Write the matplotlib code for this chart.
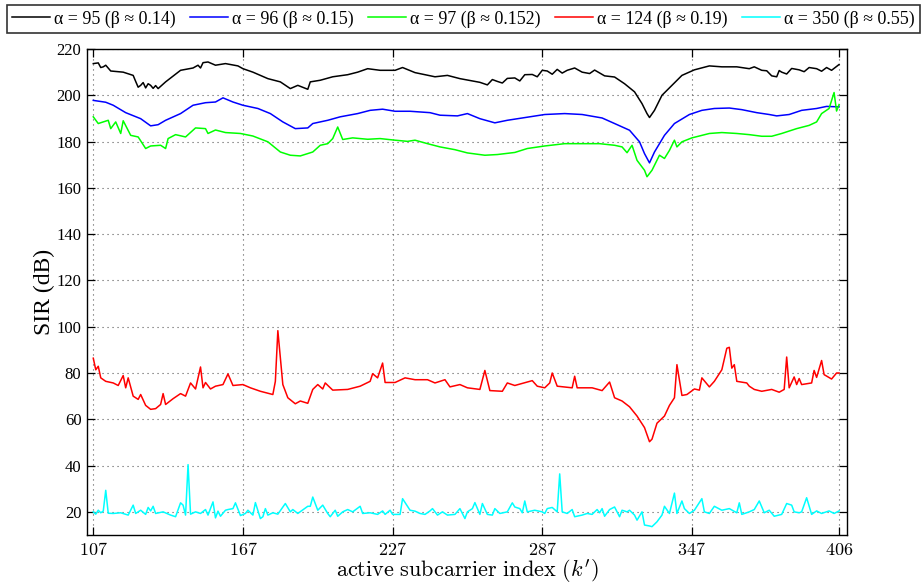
import matplotlib
matplotlib.use('Agg')
import matplotlib.pyplot as plt
import numpy as np

plt.rcParams['font.family'] = ['Liberation Serif', 'DejaVu Serif']
plt.rcParams['mathtext.fontset'] = 'cm'

# series (subcarrier index, SIR dB)
k_a95 = [107,109,110,111,112,114,119,123,124,125,126,127,128,129,130,131,132,133,136,142,
         147,149,150,151,153,156,160,165,167,171,177,182,186,189,193,194,198,203,209,213,
         217,222,228,231,236,244,249,254,262,265,267,269,271,273,276,278,280,283,285,287,
         289,291,293,295,297,300,303,306,308,312,316,320,324,327,329,330,332,335,339,343,
         348,354,359,365,370,372,375,377,379,381,382,383,385,387,390,392,394,397,399,401,
         403,406]
sir_a95 = [213.7,214,212.0,212.3,213.0,210.5,210,208.6,206.0,203.5,204.3,205.5,203.2,205.0,204.3,203.0,204.2,202.9,205.8,210.8,
           211.8,213.0,211.8,214.1,214.4,213,213.7,212.7,211.5,210,207.2,205.8,202.9,204.3,202.6,205.8,206.5,208,208.9,210,
           211.5,210.8,210.8,212,209.8,208,208.6,207.2,205.6,204.5,206.8,206,205.3,207.3,207.5,206.2,208.9,209,208.0,210.8,
           210.5,209.1,211.2,209.6,210.8,211.8,210,209.4,210.9,208.4,207.9,205,201.5,196.4,192.1,190.4,193.5,200,204.3,208.6,
           211,212.7,212.3,212.3,211.5,212.3,210.8,210.6,208.4,208.0,210.7,210,209.2,211.6,211,210.2,212.0,211.5,210.4,212.0,
           210.8,213.3]

k_a96 = [107,112,115,120,126,130,133,136,142,147,152,156,159,163,167,173,178,183,188,193,
         195,201,206,213,218,223,228,234,242,246,253,257,262,268,273,279,288,296,303,311,
         316,322,326,328,330,332,336,340,346,351,356,362,367,373,378,381,386,391,397,401,406]
sir_a96 = [197.8,197,195.7,192.5,189.9,186.8,187.3,189.2,192.1,195.7,196.8,197.1,198.9,197.1,195.7,194.3,192.1,188.5,185.6,185.9,
           187.8,189.2,190.7,192.1,193.5,194,193.1,193.1,192.5,191.4,191.1,192.1,189.9,188.1,189.2,190.2,191.7,192.1,191.7,190.2,
           187.8,184.9,179.9,174.8,170.8,175.5,182.7,187.8,191.7,193.5,194.3,194.5,193.8,192.5,191.7,191.1,191.7,193.5,194.3,195.2,195]

k_a97 = [107,109,113,114,116,118,119,122,125,128,130,134,136,137,140,144,148,152,153,156,
         160,166,171,177,182,186,190,195,198,201,203,205,207,211,217,222,228,233,236,241,
         246,252,257,264,269,276,281,288,296,303,310,316,319,321,323,325,328,329,331,334,
         336,338,340,341,343,347,354,359,365,370,375,379,383,389,394,397,399,402,404,405,406]
sir_a97 = [190.7,187.8,189.2,185.6,188.5,183.5,189,182.7,182,177,178.1,178.4,177,181.3,183,182,185.9,185.6,183.5,185,
           183.9,183.5,182.4,179.9,175.5,174.1,173.8,175.5,178.4,179.1,181.3,186.3,180.9,181.6,181,181.3,180.6,180.1,180.6,179.1,
           177.7,176.5,175.1,174.1,174.4,175.3,177,178.1,179.1,179.1,179.1,178.4,177.7,175.2,178.4,171.9,167.6,164.8,167.6,174.1,
           172.7,176.2,180.6,177.7,179.9,181.6,183.5,183.9,183.5,183,182.3,182.3,183.5,185.6,187,188.5,192.1,194.3,201.2,193.2,196]

k_a124 = [107,108,109,110,112,115,117,119,120,121,123,125,126,128,130,132,134,135,136,139,
          142,144,146,148,150,151,152,154,156,159,161,163,167,170,174,179,180,181,183,185,
          188,190,193,195,197,199,200,203,209,214,218,219,221,223,224,228,232,236,241,244,
          246,248,250,254,257,262,264,266,271,273,276,283,285,288,290,291,293,299,300,301,
          307,311,314,316,319,322,325,328,330,331,333,336,338,340,341,343,345,348,350,351,
          354,356,359,361,362,363,364,365,369,370,372,375,379,382,384,385,386,388,389,390,
          391,395,396,397,399,400,403,405,406]
sir_a124 = [86.4,81.4,82.9,77.9,76.4,75.7,74.6,78.9,73.6,77.9,70,68.6,70.7,66,64.3,64.6,66.4,71.1,66.4,68.9,
            71.1,70,75.7,73.1,82.6,73.6,75.9,73.1,74.3,75,79.6,74.6,75,73.6,72.1,70.7,76.4,98.3,75,69.3,
            66.7,67.9,66.9,72.9,75,73.1,75.7,72.6,72.9,74.3,76.4,79.7,77.9,84.3,75.9,75.9,77.9,77.1,77.1,75.7,
            76.4,77.1,74,75,73.6,72.9,81.1,72.4,72.1,75.7,74.6,76.7,74.3,73.6,75.7,80,74.3,73.6,78.6,73.6,
            73.6,72.4,76.1,69.3,67.9,65.4,61.4,56.4,50.3,51.4,58.3,61.4,66,69.3,83.6,70.3,70.7,73.1,72.6,77.9,
            74,76.4,81.4,90.7,91.1,82.1,83.6,76.4,75.7,74.3,72.9,72.1,72.9,71.7,72.9,86.9,73.6,78.3,75,77.6,
            75,75.7,81.1,78.1,85.4,79.3,77.4,80,80]

k_a350 = [107,108,109,110,111,112,113,115,118,120,121,123,124,126,128,129,130,131,132,135,
          138,140,142,143,144,145,146,148,150,152,153,155,156,157,158,160,161,163,164,166,
          168,169,171,172,174,175,176,177,179,181,184,186,187,189,193,194,195,197,199,201,
          202,204,205,207,209,211,214,215,218,221,223,224,226,227,230,231,234,236,238,240,
          242,243,245,247,249,252,254,256,257,259,260,262,263,265,267,268,270,273,275,276,
          278,279,280,281,284,287,288,289,291,293,294,295,297,299,300,303,305,307,309,310,
          311,312,314,316,318,319,321,322,324,325,327,328,330,331,333,335,336,338,340,341,
          343,344,346,348,351,352,354,356,359,362,365,366,367,370,372,374,376,378,380,383,
          385,387,388,390,391,393,395,397,399,402,404,406]
sir_a350 = [20,19,20.7,19.6,20.3,29.3,19.4,19.3,19.6,18.9,18.6,22.9,19.3,20.7,18.9,21.9,20.4,22.4,19.3,20,
            18.6,17.9,23.9,22.9,18.6,40.4,19,20,19.3,21,18.6,24.3,17.4,20.3,18.1,20.7,21,21.4,23.9,18.4,
            19.3,20.7,18.6,24,17.1,17.9,21.4,18.6,19.6,19,23.6,20,21,19.3,22.4,22.4,26.4,20.7,22.9,19.3,
            17.9,20.7,18.1,20,21,20,22.4,19.3,19.6,18.9,20.4,18.9,20.7,18.9,18.9,25.7,20.7,20.3,19.3,18.9,
            20.4,21.4,18.6,20,18.6,18.9,21.4,17.1,20,21.4,24,18.9,23.6,18.9,18.6,21.4,19.3,20,23.9,22.1,
            21.4,19.6,24.7,20,20.7,20,19.3,21.4,21.9,20,36.4,20,19.3,21,17.9,18.6,19.3,18.9,21,19.6,
            21.4,18.1,21,22.1,17.9,20.7,20,20.7,18.6,16.4,20,14.3,13.9,13.6,15.7,18.6,22.4,19.3,28.1,19.3,
            24.7,21.4,19.3,20.7,25.7,20,19.3,22.4,20.7,21.4,19.6,23.9,18.9,20,21,24.7,19.6,20.7,18.1,18.9,
            23.6,22.9,20,19.6,20,26.1,18.9,20.4,19.3,20.4,19.3,20.4]

labels = [u'\u03b1 = 95 (\u03b2 \u2248 0.14)', u'\u03b1 = 96 (\u03b2 \u2248 0.15)',
          u'\u03b1 = 97 (\u03b2 \u2248 0.152)', u'\u03b1 = 124 (\u03b2 \u2248 0.19)',
          u'\u03b1 = 350 (\u03b2 \u2248 0.55)']
colours = ['k', (0, 0, 1), (0, 1, 0), (1, 0, 0), (0, 1, 1)]
xticks = [107, 167, 227, 287, 347, 406]
yticks = np.arange(20, 221, 20)

fig = plt.figure(figsize=(9.21, 5.87), dpi=100)
ax = fig.add_axes([0.0945, 0.0886, 0.8252, 0.8279])

series = [(k_a95, sir_a95), (k_a96, sir_a96), (k_a97, sir_a97), (k_a124, sir_a124), (k_a350, sir_a350)]
lines = []
for (kk, ss), c, lab in zip(series, colours, labels):
    l, = ax.plot(kk, ss, color=c, lw=1.1, label=lab)
    lines.append(l)

ax.set_xlim(104.5, 409.2)
ax.set_ylim(10, 220)
ax.set_xticks(xticks)
ax.set_xticklabels([r'$%d$' % t for t in xticks])
ax.set_yticks(yticks)
ax.tick_params(direction='in', top=True, right=True, length=5.5, width=0.9)
ax.tick_params(axis='y', labelsize=12, pad=4)
ax.tick_params(axis='x', labelsize=13, pad=5)
ax.grid(True, linestyle=(0, (1, 3.5)), color='0.35', lw=0.8)
for s in ax.spines.values():
    s.set_linewidth(1.0)

ax.set_ylabel('SIR (dB)', fontsize=17, labelpad=1)
ax.set_xlabel(r"$\mathrm{active\ subcarrier\ index}\ (k')$", fontsize=16, labelpad=-1)

# legend box runs across the whole top of the figure
top = 1 - 5/587
leg = fig.legend(lines, labels, loc='upper left', bbox_to_anchor=(7/921, top - 0.06, 0.991, 0.06),
                 mode='expand', ncol=5, fontsize=12.9, frameon=True, fancybox=False, edgecolor='k',
                 handlelength=2.1, handletextpad=0.22, columnspacing=0.55,
                 borderpad=0.3, borderaxespad=0)
leg.get_frame().set_linewidth(1.2)

plt.savefig('out.png', dpi=100)
